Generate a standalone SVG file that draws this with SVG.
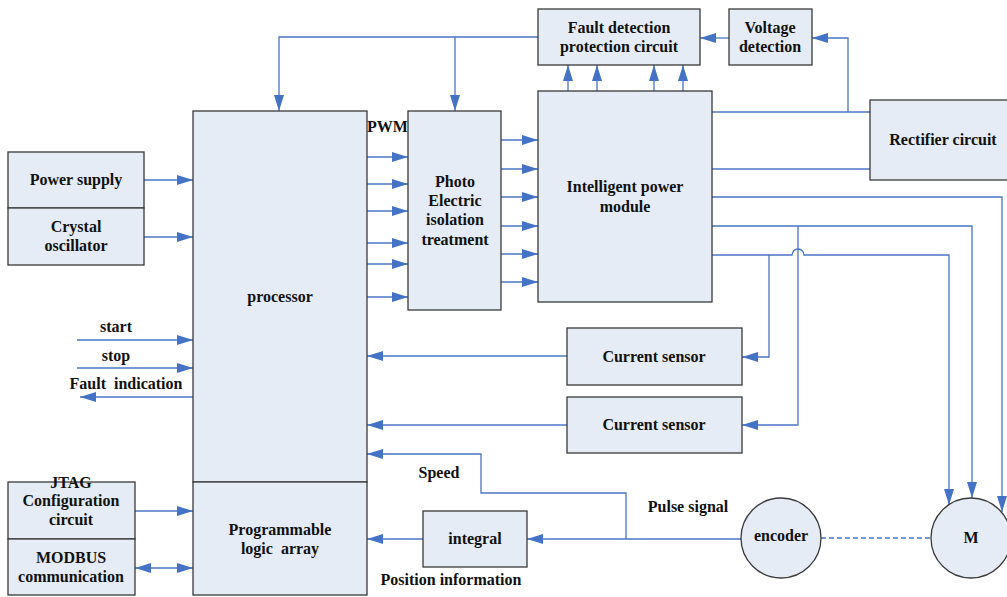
<svg xmlns="http://www.w3.org/2000/svg" width="1007" height="597" viewBox="0 0 1007 597">
<style>
.box{fill:#E6ECF6;stroke:#3a3a3a;stroke-width:1.3}
.t{font-family:"Liberation Serif",serif;font-weight:bold;font-size:16px;fill:#111;text-anchor:middle;white-space:pre}
.l{font-family:"Liberation Serif",serif;font-weight:bold;font-size:16px;fill:#111}
.c{fill:none;stroke:#4A76C4;stroke-width:1.3}
</style>
<defs>
<marker id="a" markerUnits="userSpaceOnUse" markerWidth="17" markerHeight="11" refX="16" refY="5" orient="auto"><path d="M0,0 L16,5 L0,10 z" fill="#4472C4"/></marker>
<marker id="s" markerUnits="userSpaceOnUse" markerWidth="17" markerHeight="11" refX="0" refY="5" orient="auto"><path d="M16,0 L0,5 L16,10 z" fill="#4472C4"/></marker>
</defs>
<rect width="1007" height="597" fill="#fff"/>
<g id="connectors">
<path class="c" d="M538,37 H279 V111" marker-end="url(#a)"/>
<path class="c" d="M455,37 V111" marker-end="url(#a)"/>
<path class="c" d="M729,38 H700" marker-end="url(#a)"/>
<path class="c" d="M848,112 V38 H812" marker-end="url(#a)"/>
<path class="c" d="M568,91 V65" marker-end="url(#a)"/>
<path class="c" d="M597,91 V65" marker-end="url(#a)"/>
<path class="c" d="M654,91 V65" marker-end="url(#a)"/>
<path class="c" d="M683,91 V65" marker-end="url(#a)"/>
<path class="c" d="M144,180 H193" marker-end="url(#a)"/>
<path class="c" d="M144,237 H193" marker-end="url(#a)"/>
<path class="c" d="M77,340 H193" marker-end="url(#a)"/>
<path class="c" d="M77,368 H193" marker-end="url(#a)"/>
<path class="c" d="M193,397 H80" marker-end="url(#a)"/>
<path class="c" d="M367,157 H408" marker-end="url(#a)"/>
<path class="c" d="M367,184 H408" marker-end="url(#a)"/>
<path class="c" d="M367,211 H408" marker-end="url(#a)"/>
<path class="c" d="M367,243 H408" marker-end="url(#a)"/>
<path class="c" d="M367,264 H408" marker-end="url(#a)"/>
<path class="c" d="M367,297 H408" marker-end="url(#a)"/>
<path class="c" d="M501,140 H538" marker-end="url(#a)"/>
<path class="c" d="M501,169 H538" marker-end="url(#a)"/>
<path class="c" d="M501,197 H538" marker-end="url(#a)"/>
<path class="c" d="M501,226 H538" marker-end="url(#a)"/>
<path class="c" d="M501,254 H538" marker-end="url(#a)"/>
<path class="c" d="M501,282 H538" marker-end="url(#a)"/>
<path class="c" d="M712,112 H870"/>
<path class="c" d="M712,169 H870"/>
<path class="c" d="M712,197 H1002 V512" marker-end="url(#a)"/>
<path class="c" d="M712,226 H972 V498" marker-end="url(#a)"/>
<path class="c" d="M712,255 H792 A6,6 0 0 1 804,255 H949 V505" marker-end="url(#a)"/>
<path class="c" d="M769,255 V357 H742" marker-end="url(#a)"/>
<path class="c" d="M798,226 V425 H742" marker-end="url(#a)"/>
<path class="c" d="M567,356 H367" marker-end="url(#a)"/>
<path class="c" d="M567,425 H367" marker-end="url(#a)"/>
<path class="c" d="M135,511 H193" marker-end="url(#a)"/>
<path class="c" d="M135,568 H193" marker-start="url(#s)" marker-end="url(#a)"/>
<path class="c" d="M423,539 H367" marker-end="url(#a)"/>
<path class="c" d="M741,539 H527" marker-end="url(#a)"/>
<path class="c" d="M626,539 V493 H481 V454 H367" marker-end="url(#a)"/>
<path class="c" d="M821,538 H931" stroke-dasharray="5,3"/>
</g>
<g id="fault"><rect class="box" x="538" y="9" width="162" height="56"/><text class="t" x="619" y="33">Fault detection</text><text class="t" x="619" y="52">protection circuit</text></g>
<g id="voltage"><rect class="box" x="729" y="9" width="83" height="56"/><text class="t" x="770" y="33">Voltage</text><text class="t" x="770" y="52">detection</text></g>
<g id="ipm"><rect class="box" x="538" y="91" width="174" height="211"/><text class="t" x="625" y="192">Intelligent power</text><text class="t" x="625" y="212">module</text></g>
<g id="rectifier"><rect class="box" x="870" y="100" width="145" height="80"/><text class="t" x="943" y="145">Rectifier circuit</text></g>
<g id="photo"><rect class="box" x="408" y="111" width="93" height="199"/><text class="t" x="455" y="187">Photo</text><text class="t" x="455" y="206">Electric</text><text class="t" x="455" y="225">isolation</text><text class="t" x="455" y="245">treatment</text></g>
<g id="processor"><rect class="box" x="193" y="111" width="174" height="371"/><text class="t" x="280" y="302">processor</text></g>
<g id="pla"><rect class="box" x="193" y="482" width="174" height="113"/><text class="t" x="280" y="535">Programmable</text><text class="t" x="280" y="554">logic  array</text></g>
<g id="power"><rect class="box" x="8" y="152" width="136" height="56"/><text class="t" x="76" y="185">Power supply</text></g>
<g id="crystal"><rect class="box" x="8" y="208" width="136" height="57"/><text class="t" x="76" y="232">Crystal</text><text class="t" x="76" y="251">oscillator</text></g>
<g id="jtag"><rect class="box" x="8" y="482" width="127" height="57"/><text class="t" x="71" y="488">JTAG</text><text class="t" x="71" y="506">Configuration</text><text class="t" x="71" y="525">circuit</text></g>
<g id="modbus"><rect class="box" x="8" y="539" width="127" height="56"/><text class="t" x="71" y="563">MODBUS</text><text class="t" x="71" y="582">communication</text></g>
<g id="cs1"><rect class="box" x="567" y="328" width="175" height="57"/><text class="t" x="654" y="362">Current sensor</text></g>
<g id="cs2"><rect class="box" x="567" y="397" width="175" height="56"/><text class="t" x="654" y="430">Current sensor</text></g>
<g id="integral"><rect class="box" x="423" y="511" width="104" height="56"/><text class="t" x="475" y="544">integral</text></g>
<g id="encoder"><circle class="box" cx="781" cy="538" r="40"/><text class="t" x="781" y="541">encoder</text></g>
<g id="motor"><circle class="box" cx="971" cy="538" r="40"/><text class="t" x="971" y="543">M</text></g>
<g id="labels">
<text class="l" x="367" y="132">PWM</text>
<text class="t" x="116" y="332">start</text>
<text class="t" x="116" y="361">stop</text>
<text class="t" x="126" y="389">Fault  indication</text>
<text class="t" x="439" y="478">Speed</text>
<text class="t" x="688" y="512">Pulse signal</text>
<text class="t" x="451" y="585">Position information</text>
</g>
</svg>
